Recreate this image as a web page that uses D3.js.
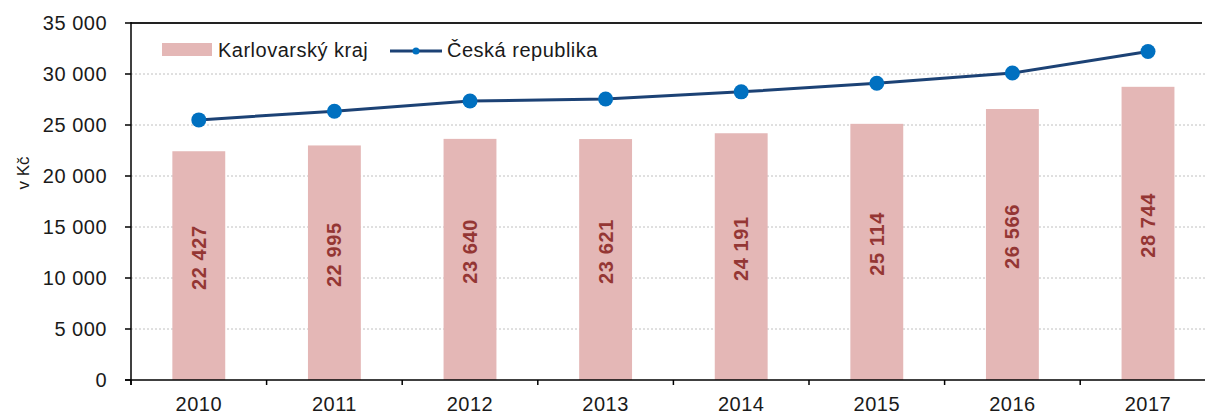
<!DOCTYPE html>
<html><head><meta charset="utf-8">
<script src="https://cdn.jsdelivr.net/npm/d3@7"></script>
<style>
html,body{margin:0;padding:0;background:#fff;}
svg{display:block;font-family:"Liberation Sans",Arial,sans-serif;}
</style></head>
<body>
<svg id="chart" width="1205" height="415"></svg>
<script>
const years = ["2010","2011","2012","2013","2014","2015","2016","2017"];
const karlovarsky = [22427, 22995, 23640, 23621, 24191, 25114, 26566, 28744];
const ceskaRepublika = [25500, 26350, 27350, 27550, 28250, 29100, 30100, 32200];
const yTicks = [0, 5000, 10000, 15000, 20000, 25000, 30000, 35000];
const seriesNames = ["Karlovarský kraj", "Česká republika"];

(function () {
const svg = d3.select("#chart");
const plotLeft = 131, plotBottom = 380, plotTop = 23;
const step = 135.6;
const x = d3.scaleBand().domain(years).range([plotLeft, plotLeft + step * years.length])
  .paddingInner(0.61).paddingOuter(0.305);
const y = d3.scaleLinear().domain([0, 35000]).range([plotBottom, plotTop]);
const fmt = v => d3.format(",")(v).replace(/,/g, " ");

// gridlines
svg.append("g").selectAll("line").data(yTicks.filter(t => t > 0 && t < 35000)).join("line")
  .attr("x1", plotLeft).attr("x2", 1205)
  .attr("y1", d => y(d)).attr("y2", d => y(d))
  .attr("stroke", "#c0c0c0").attr("stroke-width", 1).attr("stroke-dasharray", "2,2");

// top border
svg.append("line").attr("x1", plotLeft).attr("x2", 1202).attr("y1", y(35000)).attr("y2", y(35000))
  .attr("stroke", "#222").attr("stroke-width", 2);

// bars
svg.append("g").selectAll("rect").data(years).join("rect")
  .attr("x", d => x(d)).attr("width", x.bandwidth())
  .attr("y", (d, i) => y(karlovarsky[i])).attr("height", (d, i) => plotBottom - y(karlovarsky[i]))
  .attr("fill", "#e4b7b6");

// bar labels
svg.append("g").selectAll("text").data(years).join("text")
  .attr("transform", (d, i) => `translate(${x(d) + x.bandwidth() / 2 + 7},${(y(karlovarsky[i]) + plotBottom) / 2 - 8}) rotate(-90)`)
  .attr("text-anchor", "middle").attr("letter-spacing", 0.6)
  .attr("font-size", 20).attr("font-weight", "bold").attr("fill", "#943634")
  .text((d, i) => fmt(karlovarsky[i]));

// line
const line = d3.line().x((d, i) => x(years[i]) + x.bandwidth() / 2).y(d => y(d));
svg.append("path").datum(ceskaRepublika).attr("d", line)
  .attr("fill", "none").attr("stroke", "#1c4275").attr("stroke-width", 3);
svg.append("g").selectAll("circle").data(ceskaRepublika).join("circle")
  .attr("cx", (d, i) => x(years[i]) + x.bandwidth() / 2).attr("cy", d => y(d)).attr("r", 7.5)
  .attr("fill", "#0070c0");

// y axis
const yAxis = svg.append("g");
yAxis.append("line").attr("x1", plotLeft).attr("x2", plotLeft).attr("y1", plotTop - 1).attr("y2", plotBottom + 5)
  .attr("stroke", "#000").attr("stroke-width", 1.5);
yAxis.selectAll(".tk").data(yTicks).join("line").attr("class", "tk")
  .attr("x1", plotLeft - 6).attr("x2", plotLeft).attr("y1", d => y(d)).attr("y2", d => y(d))
  .attr("stroke", "#000").attr("stroke-width", 1.5);
yAxis.selectAll("text").data(yTicks).join("text")
  .attr("x", 107).attr("y", d => y(d) + 7).attr("text-anchor", "end").attr("letter-spacing", 0.5)
  .attr("font-size", 20).attr("fill", "#1a1a1a").text(d => fmt(d));

// y title
svg.append("text").attr("transform", "translate(29,173) rotate(-90)").attr("text-anchor", "middle")
  .attr("font-size", 17).attr("fill", "#1a1a1a").text("v Kč");

// x axis
const xAxis = svg.append("g");
xAxis.append("line").attr("x1", plotLeft - 6).attr("x2", 1205).attr("y1", plotBottom).attr("y2", plotBottom)
  .attr("stroke", "#000").attr("stroke-width", 1.5);
xAxis.selectAll(".tk").data(years).join("line").attr("class", "tk")
  .attr("x1", d => x(d) - x.step() * x.paddingInner() / 2).attr("x2", d => x(d) - x.step() * x.paddingInner() / 2)
  .attr("y1", plotBottom).attr("y2", plotBottom + 5).attr("stroke", "#000").attr("stroke-width", 1.5);
xAxis.selectAll("text").data(years).join("text")
  .attr("x", d => x(d) + x.bandwidth() / 2).attr("y", 411).attr("text-anchor", "middle").attr("letter-spacing", 0.5)
  .attr("font-size", 20).attr("fill", "#1a1a1a").text(d => d);

// legend
const lg = svg.append("g");
lg.append("rect").attr("x", 162).attr("y", 43).attr("width", 50).attr("height", 13).attr("fill", "#e4b7b6");
lg.append("text").attr("x", 218).attr("y", 57).attr("font-size", 20).attr("letter-spacing", 0.5)
  .attr("fill", "#1a1a1a").text(seriesNames[0]);
lg.append("line").attr("x1", 390).attr("x2", 442).attr("y1", 51).attr("y2", 51)
  .attr("stroke", "#1c4275").attr("stroke-width", 3);
lg.append("circle").attr("cx", 416).attr("cy", 51).attr("r", 3.5).attr("fill", "#0070c0");
lg.append("text").attr("x", 447).attr("y", 57).attr("font-size", 20).attr("letter-spacing", 0.5)
  .attr("fill", "#1a1a1a").text(seriesNames[1]);
})();
</script>
</body></html>
